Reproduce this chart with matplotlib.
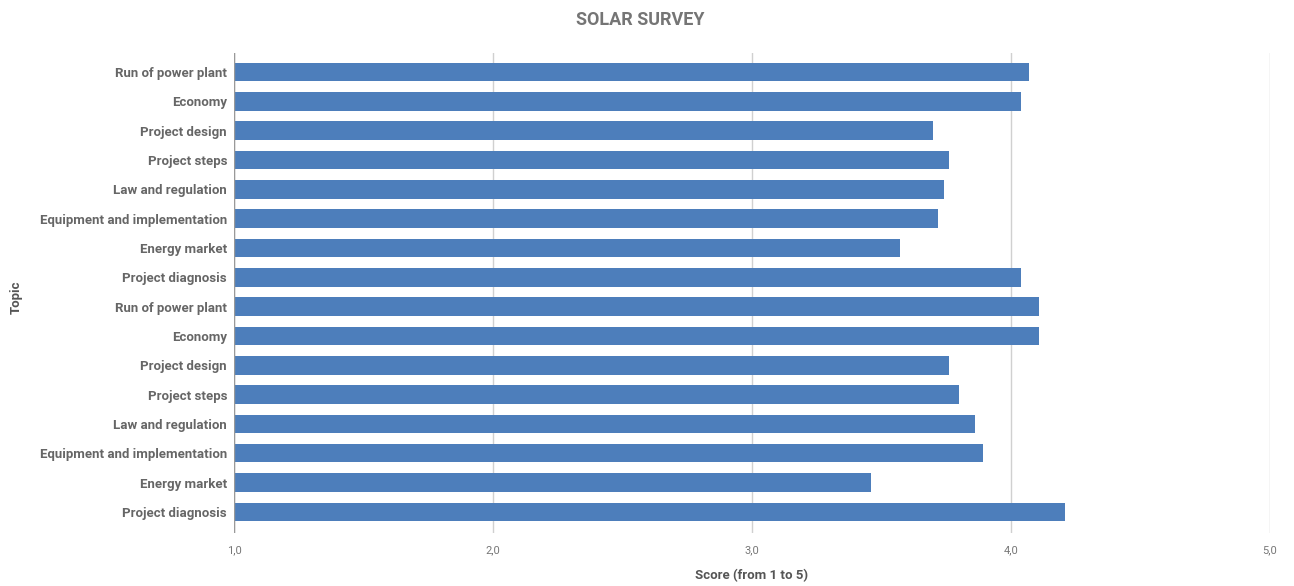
#!/usr/bin/env python3

import matplotlib
matplotlib.use("Agg")
import matplotlib.pyplot as plt
import numpy as np

topics = ["Run of power plant", "Economy", "Project design", "Project steps",
          "Law and regulation", "Equipment and implementation", "Energy market",
          "Project diagnosis",
          "Run of power plant", "Economy", "Project design", "Project steps",
          "Law and regulation", "Equipment and implementation", "Energy market",
          "Project diagnosis"]
scores = [4.07, 4.04, 3.70, 3.76, 3.74, 3.72, 3.57, 4.04,
          4.11, 4.11, 3.76, 3.80, 3.86, 3.89, 3.46, 4.21]
xticks = [1.0, 2.0, 3.0, 4.0, 5.0]


def main():
    plt.rcParams['font.family'] = ['Roboto', 'DejaVu Sans']
    fig = plt.figure(figsize=(12.94, 5.86), dpi=100)
    ax = fig.add_axes([234 / 1294, 1 - 533 / 586, 1036 / 1294, 480 / 586])

    y = np.arange(len(topics))
    base = xticks[0]
    ax.barh(y, np.array(scores) - base, left=base, height=0.63,
            color="#4d7ebb", zorder=3)

    ax.set_xlim(xticks[0], xticks[-1])
    ax.set_ylim(15.72, -0.65)
    ax.set_xticks(xticks)
    ax.set_xticklabels([f"{t:.1f}".replace(".", ",") for t in xticks],
                       color="#777777", fontsize=8)
    ax.set_yticks(y)
    ax.set_yticklabels(topics, color="#666666", fontsize=9.5, fontweight="bold")
    ax.tick_params(length=0, pad=5)
    ax.tick_params(axis="x", pad=9)

    ax.grid(axis="x", color="#d0d0d0", linewidth=1, zorder=0)
    for s in ax.spines.values():
        s.set_visible(False)
    ax.axvline(xticks[0], color="#999999", linewidth=1, zorder=4)

    fig.text(640 / 1294, 1 - 20 / 586, "SOLAR SURVEY", ha="center", va="center",
             fontsize=13, fontweight="bold", color="#757575")
    fig.text(752 / 1294, 1 - 576 / 586, "Score (from 1 to 5)", ha="center",
             va="center", fontsize=9.5, fontweight="bold", color="#555555")
    fig.text(16 / 1294, 1 - 297 / 586, "Topic", ha="center", va="center",
             rotation=90, fontsize=9.5, fontweight="bold", color="#555555")

    fig.savefig("out.png", dpi=100, facecolor="white")


if __name__ == "__main__":
    main()
